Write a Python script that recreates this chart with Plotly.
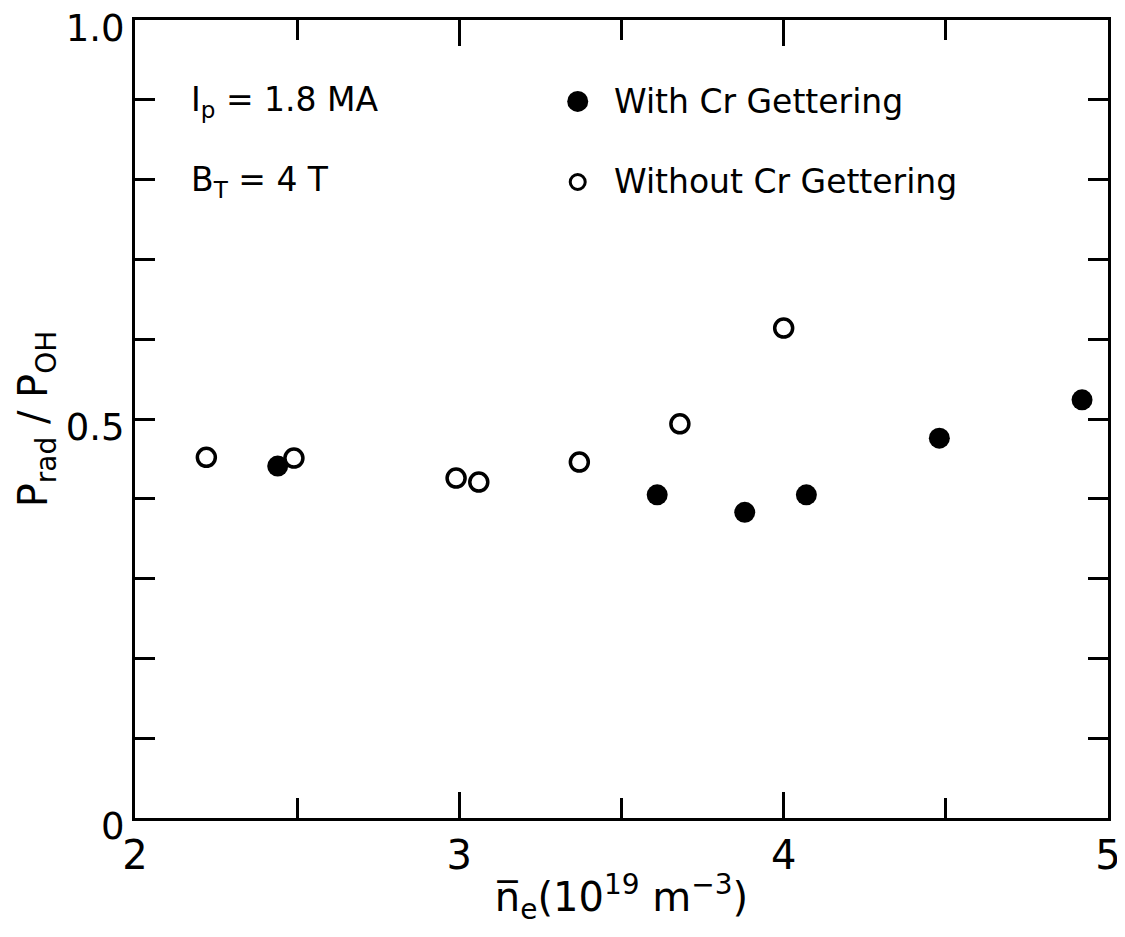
import plotly.graph_objects as go

# Data
ne_without = [2.22, 2.49, 2.99, 3.06, 3.37, 3.68, 4.00]
ratio_without = [0.452, 0.451, 0.426, 0.421, 0.446, 0.494, 0.614]

ne_with = [2.44, 3.61, 3.88, 4.07, 4.48, 4.92]
ratio_with = [0.441, 0.405, 0.383, 0.405, 0.476, 0.524]

x_ticks = [2, 3, 4, 5]
x_tick_labels = ["2", "3", "4", "5"]
y_ticks = [0, 0.5, 1.0]
y_tick_labels = ["0", "0.5", "1.0"]

FONT = "DejaVu Sans, sans-serif"

fig = go.Figure()
fig.add_trace(go.Scatter(
    x=ne_without, y=ratio_without, mode="markers",
    marker=dict(symbol="circle-open", size=18, color="black", line=dict(width=3.5, color="black")),
    name="Without Cr Gettering", showlegend=False))
fig.add_trace(go.Scatter(
    x=ne_with, y=ratio_with, mode="markers",
    marker=dict(symbol="circle", size=21, color="black"),
    name="With Cr Gettering", showlegend=False))

# legend keys
fig.add_trace(go.Scatter(x=[3.365], y=[0.898], mode="markers",
    marker=dict(symbol="circle", size=21, color="black"), showlegend=False, hoverinfo="skip"))
fig.add_trace(go.Scatter(x=[3.365], y=[0.797], mode="markers",
    marker=dict(symbol="circle-open", size=15, color="black", line=dict(width=3, color="black")),
    showlegend=False, hoverinfo="skip"))

anns = [
    dict(x=3.47, y=0.898, text="With Cr Gettering", xanchor="left"),
    dict(x=3.47, y=0.797, text="Without Cr Gettering", xanchor="left"),
    dict(x=2.165, y=0.898, text="I<sub>p</sub> = 1.8 MA", xanchor="left"),
    dict(x=2.165, y=0.797, text="B<sub>T</sub> = 4 T", xanchor="left"),
]
for a in anns:
    fig.add_annotation(x=a["x"], y=a["y"], text=a["text"], xanchor=a["xanchor"],
                       yanchor="middle", showarrow=False,
                       font=dict(family=FONT, size=33, color="black"))

fig.update_xaxes(
    range=[2, 5], tickvals=x_ticks, ticktext=x_tick_labels,
    showline=True, linewidth=3, linecolor="black", mirror="allticks",
    ticks="inside", ticklen=26, tickwidth=3, tickcolor="black",
    minor=dict(dtick=0.5, ticks="inside", ticklen=20, tickwidth=3, tickcolor="black"),
    showgrid=False, zeroline=False, automargin=False,
    ticklabeloverflow="allow",
    tickfont=dict(family=FONT, size=40, color="black"),
    title=dict(text="n\u0305<sub>e</sub>(10<sup>19</sup> m<sup>\u22123</sup>)",
               font=dict(family=FONT, size=40, color="black"), standoff=6),
)
fig.update_yaxes(
    range=[0, 1.0], tickvals=y_ticks, ticktext=y_tick_labels,
    showline=True, linewidth=3, linecolor="black", mirror="allticks",
    ticks="inside", ticklen=20, tickwidth=3, tickcolor="black",
    minor=dict(dtick=0.1, ticks="inside", ticklen=20, tickwidth=3, tickcolor="black"),
    showgrid=False, zeroline=False, automargin=False,
    ticklabeloverflow="allow", ticklabelshift=8,
    tickfont=dict(family=FONT, size=37, color="black"),
    title=dict(text="P<sub>rad</sub> / P<sub>OH</sub>",
               font=dict(family=FONT, size=40, color="black"), standoff=6),
)

# page body has an 8px margin, so the figure is offset by 8px inside the window
fig.update_layout(
    width=1117, height=921,
    margin=dict(l=127, r=17, t=12, b=111),
    paper_bgcolor="white", plot_bgcolor="white",
)

fig.write_html("out.html")
